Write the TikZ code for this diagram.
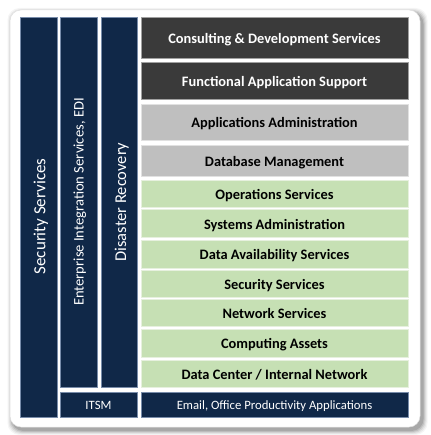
\documentclass[tikz,border=0pt]{standalone}
\usepackage{fontspec}
\setmainfont{Carlito}
\definecolor{navy}{RGB}{16,40,72}
\definecolor{navyedge}{RGB}{120,140,170}
\definecolor{dgray}{RGB}{58,58,58}
\definecolor{dgrayedge}{RGB}{160,160,160}
\definecolor{lgray}{RGB}{191,191,191}
\definecolor{lgrayedge}{RGB}{225,225,225}
\definecolor{lgreen}{RGB}{198,224,180}
\definecolor{lgreenedge}{RGB}{230,240,222}
\begin{document}
\begin{tikzpicture}[x=1pt,y=-1pt,
  box/.style={line width=0.7pt, inner sep=0pt},
  colbox/.style={box, fill=navy, draw=navyedge},
  darkbox/.style={box, fill=dgray, draw=dgrayedge},
  greybox/.style={box, fill=lgray, draw=lgrayedge},
  greenbox/.style={box, fill=lgreen, draw=lgreenedge},
  navybox/.style={box, fill=navy, draw=navyedge},
  boldlbl/.style={font=\fontsize{14.4}{16}\selectfont\bfseries, text height=9.3pt, text depth=0pt, inner sep=0pt, yshift=-1.2pt},
  whitelbl/.style={text=white, font=\fontsize{12.7}{14}\selectfont, text height=8.2pt, text depth=0pt, inner sep=0pt, yshift=-0.8pt},
  vlbl/.style={text=white, rotate=90, text depth=0pt, inner sep=0pt}
]
\useasboundingbox (0,0) rectangle (430,435);
% shadow
\foreach \o/\a in {5/0.04,4/0.06,3/0.08,2/0.10,1/0.12}{
  \fill[black, opacity=\a, rounded corners=12] (10-\o+2.5,10-\o+3) rectangle (420+\o+2.5,427+\o+3);
}
\fill[white, rounded corners=11] (10,10) rectangle (420,427);
\draw[black!12, line width=0.5pt, rounded corners=11] (10,10) rectangle (420,427);

% vertical columns
\path[colbox] (20,17) rectangle (57,417);
\path[colbox] (60,17) rectangle (97,387);
\path[colbox] (101,17) rectangle (137,387);
\node[vlbl, font=\fontsize{17}{19}\selectfont, text height=10.9pt] (sec) at (40,216.5) {Security Services};
\node[vlbl, font=\fontsize{14.6}{16}\selectfont, text height=9.4pt] (ent) at (79,202) {Enterprise Integration Services, EDI};
\node[vlbl, font=\fontsize{16.5}{18}\selectfont, text height=10.6pt] (dr) at (120.8,202) {Disaster Recovery};

% bottom row
\path[navybox] (60,392) rectangle (137,417);
\node[whitelbl] (itsm) at (98.5,404.5) {ITSM};
\path[navybox] (141,392) rectangle (408,417);
\node[whitelbl] (email) at (274.5,404.5) {Email, Office Productivity Applications};

% right stack
\path[darkbox] (141,17) rectangle (408,58);
\node[boldlbl, text=white] (cons) at (274.5,37.5) {Consulting \& Development Services};
\path[darkbox] (141,62) rectangle (408,99);
\node[boldlbl, text=white] (func) at (274.5,80.5) {Functional Application Support};
\path[greybox] (141,104) rectangle (408,140);
\node[boldlbl] (appadm) at (274.5,122) {Applications Administration};
\path[greybox] (141,145) rectangle (408,176);
\node[boldlbl] (db) at (274.5,160.5) {Database Management};
\path[greenbox] (141,180) rectangle (408,207);
\node[boldlbl] (ops) at (274.5,193.5) {Operations Services};
\path[greenbox] (141,209.5) rectangle (408,237);
\node[boldlbl] (sys) at (274.5,223.5) {Systems Administration};
\path[greenbox] (141,240) rectangle (408,268);
\node[boldlbl] (dav) at (274.5,254) {Data Availability Services};
\path[greenbox] (141,270) rectangle (408,297);
\node[boldlbl] (secs) at (274.5,283.5) {Security Services};
\path[greenbox] (141,299.5) rectangle (408,326.5);
\node[boldlbl] (net) at (274.5,313) {Network Services};
\path[greenbox] (141,329.5) rectangle (408,357);
\node[boldlbl] (comp) at (274.5,343) {Computing Assets};
\path[greenbox] (141,360) rectangle (408,387);
\node[boldlbl] (dc) at (274.5,373.5) {Data Center / Internal Network};
\end{tikzpicture}
\end{document}
